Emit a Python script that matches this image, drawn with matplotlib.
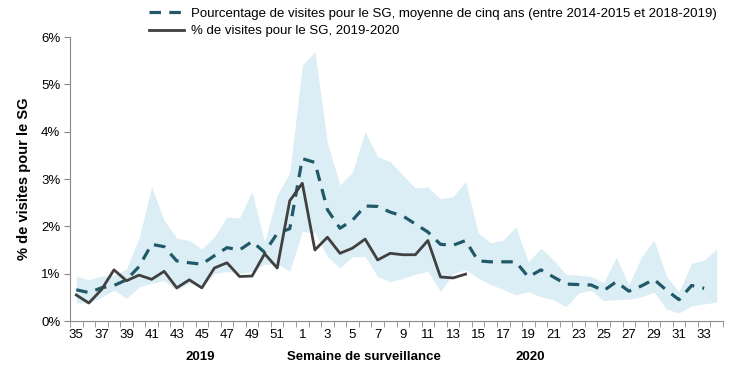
import matplotlib
matplotlib.use("Agg")
import matplotlib.pyplot as plt
import numpy as np

plt.rcParams['font.family'] = ['Liberation Sans', 'DejaVu Sans']

# surveillance weeks: 35-52 of 2019, then 1-34 of 2020
weeks = list(range(35, 53)) + list(range(1, 35))

# five-year average (%), one value per week up to week 33
avg_5yr = [0.66, 0.60, 0.70, 0.75, 0.87, 1.15, 1.62, 1.57, 1.27, 1.23,
           1.20, 1.38, 1.55, 1.50, 1.68, 1.45, 1.85, 1.95, 3.43, 3.35,
           2.35, 1.96, 2.13, 2.43, 2.42, 2.30, 2.22, 2.05, 1.88, 1.62,
           1.60, 1.70, 1.27, 1.25, 1.25, 1.25, 0.93, 1.08, 0.93, 0.78,
           0.77, 0.76, 0.64, 0.83, 0.63, 0.74, 0.88, 0.65, 0.45, 0.75,
           0.69]

# 2019-2020 season (%), weeks 35 to 14
season_1920 = [0.55, 0.38, 0.66, 1.08, 0.85, 0.97, 0.88, 1.05, 0.70, 0.87,
               0.70, 1.12, 1.23, 0.94, 0.95, 1.42, 1.12, 2.54, 2.91, 1.50,
               1.77, 1.43, 1.54, 1.73, 1.29, 1.43, 1.40, 1.40, 1.70, 0.93,
               0.91, 0.99]

# min / max range of the previous five seasons (%)
range_max = [0.95, 0.87, 0.95, 0.97, 1.10, 1.75, 2.83, 2.13, 1.75, 1.70,
             1.52, 1.78, 2.20, 2.18, 2.73, 1.67, 2.66, 3.13, 5.40, 5.69,
             3.76, 2.87, 3.15, 4.00, 3.47, 3.37, 3.08, 2.81, 2.83, 2.58,
             2.63, 2.95, 1.86, 1.65, 1.71, 1.99, 1.25, 1.54, 1.29, 0.99,
             0.97, 0.94, 0.81, 1.35, 0.76, 1.35, 1.71, 0.94, 0.62, 1.22,
             1.29, 1.52]
range_min = [0.38, 0.38, 0.50, 0.65, 0.48, 0.72, 0.80, 0.85, 0.65, 0.80,
             0.72, 1.00, 1.05, 1.00, 1.05, 1.20, 1.20, 1.05, 1.89, 1.86,
             1.36, 1.12, 1.36, 1.36, 0.94, 0.83, 0.90, 0.99, 1.05, 0.62,
             1.00, 1.08, 0.91, 0.77, 0.67, 0.55, 0.62, 0.51, 0.45, 0.30,
             0.59, 0.65, 0.43, 0.45, 0.46, 0.51, 0.61, 0.25, 0.17, 0.32,
             0.36, 0.40]

x = np.arange(len(weeks))

fig = plt.figure(figsize=(7.5, 3.78), dpi=100)
ax = fig.add_axes([70 / 750, 57 / 378, 653 / 750, 284 / 378])

ax.fill_between(x, range_min, range_max, color="#DCEEF5", linewidth=0, zorder=1)
dash_line, = ax.plot(x[:len(avg_5yr)], avg_5yr, color="#215968", lw=2.3,
                     dashes=(3.6, 2.6), zorder=3,
                     label="Pourcentage de visites pour le SG, moyenne de cinq ans (entre 2014-2015 et 2018-2019)")
solid_line, = ax.plot(x[:len(season_1920)], season_1920, color="#404040", lw=2.0,
                      zorder=4, label="% de visites pour le SG, 2019-2020")

ax.set_xlim(-0.5, len(weeks) - 0.5)
ax.set_ylim(0, 6)
ax.set_yticks(range(0, 7))
ax.set_yticklabels([f"{v}%" for v in range(0, 7)])

ax.set_xticks(x[::2])
ax.set_xticklabels([str(w) for w in weeks[::2]])
ax.set_xticks(np.arange(-0.5, len(weeks), 1), minor=True)
ax.tick_params(axis="x", which="major", length=0, pad=6, labelsize=9.5)
ax.tick_params(axis="x", which="minor", length=4, color="#898989", direction="out")
ax.tick_params(axis="y", length=4, color="#898989", labelsize=9.5, pad=3)

for s in ["top", "right"]:
    ax.spines[s].set_visible(False)
for s in ["left", "bottom"]:
    ax.spines[s].set_color("#898989")

ax.set_ylabel("% de visites pour le SG", fontsize=10.5, fontweight="bold", labelpad=7)

fig.text(200 / 750, 1 - 357 / 378, "2019", fontsize=9.5, fontweight="bold",
         ha="center", va="center")
fig.text(364 / 750, 1 - 357 / 378, "Semaine de surveillance", fontsize=9.5,
         fontweight="bold", ha="center", va="center")
fig.text(530 / 750, 1 - 357 / 378, "2020", fontsize=9.5, fontweight="bold",
         ha="center", va="center")

fig.legend(handles=[dash_line, solid_line], loc="upper left",
           bbox_to_anchor=(146 / 750, 1 - 5 / 378), frameon=False,
           fontsize=9.5, handlelength=2.7, handletextpad=0.5,
           labelspacing=0.4, borderpad=0.2, borderaxespad=0)

fig.savefig("out.png", dpi=100)
